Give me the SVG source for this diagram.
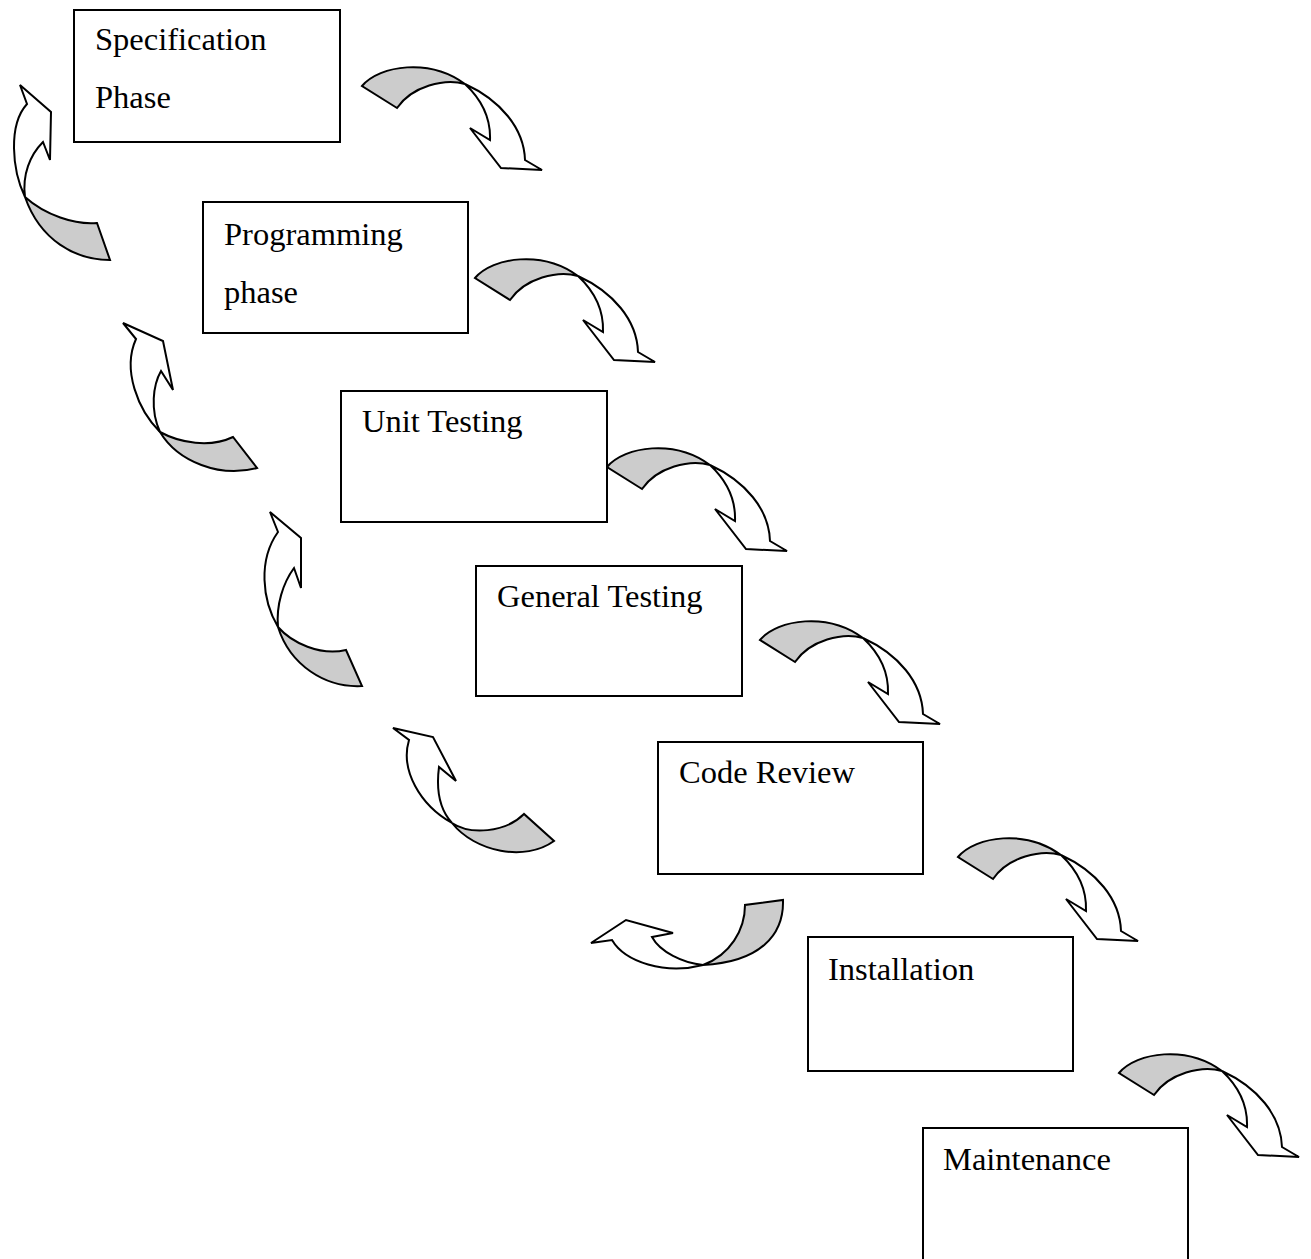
<svg xmlns="http://www.w3.org/2000/svg" width="1311" height="1259" viewBox="0 0 1311 1259">
  <style>
    .box { fill: #ffffff; stroke: #000000; stroke-width: 2; }
    .lbl { font-family: "Liberation Serif", "Times New Roman", serif; font-size: 32.5px; fill: #000000; }
    .back { fill: #cccccc; stroke: #000000; stroke-width: 2; stroke-linejoin: miter; }
    .front { fill: #ffffff; stroke: #000000; stroke-width: 2; stroke-linejoin: miter; }
  </style>
  <defs>
    <!-- twisted curved-down arrow, origin at the tail's left corner -->
    <g id="curvedDown">
      <path class="back" d="M0,0 C18,-21 68,-28 103,-2 C83,-8 50,0 35,22 Z"/>
      <path class="front" d="M103,-2 C118,12 129,29 128,54 L108,42 L139,82 L180,84 L163,74 C162,42 138,14 103,-2 Z"/>
    </g>
  </defs>
  <rect width="1311" height="1259" fill="#ffffff"/>

  <g id="connectors">
    <!-- forward arrows between phases -->
    <use href="#curvedDown" transform="translate(362,86)"/>
    <use href="#curvedDown" transform="translate(475,278)"/>
    <use href="#curvedDown" transform="translate(607,467)"/>
    <use href="#curvedDown" transform="translate(760,640)"/>
    <use href="#curvedDown" transform="translate(958,857)"/>
    <use href="#curvedDown" transform="translate(1119,1073)"/>

    <!-- return arrows -->
    <g id="back1">
      <path class="back" d="M25,197 C45,215 75,225 97,223 L110,260 C75,260 40,240 25,197 Z"/>
      <path class="front" d="M25,197 C12,170 8,125 27,104 L20,85 L51,112 L50,160 L43,142 C30,155 22,175 25,197 Z"/>
    </g>
    <g id="back2">
      <path class="back" d="M160,432 C180,443 210,448 233,437 L257,468 C220,478 178,462 160,432 Z"/>
      <path class="front" d="M160,432 C138,410 122,370 136,339 L123,323 L163,341 L173,390 L161,371 C153,385 150,410 160,432 Z"/>
    </g>
    <g id="back3">
      <path class="back" d="M278,627 C292,643 320,656 346,650 L362,686 C325,688 290,665 278,627 Z"/>
      <path class="front" d="M278,627 C262,600 258,560 278,532 L270,512 L301,538 L301,588 L294,568 C283,583 276,605 278,627 Z"/>
    </g>
    <g id="back4">
      <path class="back" d="M452,823 C470,835 505,833 524,814 L554,841 C525,862 475,852 452,823 Z"/>
      <path class="front" d="M452,823 C420,805 400,770 409,740 L393,728 L433,737 L456,781 L439,767 C436,790 440,810 452,823 Z"/>
    </g>
    <g id="back5">
      <path class="back" d="M703,965 C730,955 745,930 745,905 L783,900 C784,935 760,962 703,965 Z"/>
      <path class="front" d="M703,965 C683,963 660,952 652,937 L673,933 L626,920 L591,943 L612,940 C625,962 665,975 703,965 Z"/>
    </g>
  </g>

  <g id="spec">
    <rect class="box" x="74" y="10" width="266" height="132"/>
    <text class="lbl" x="95" y="50">Specification</text>
    <text class="lbl" x="95" y="108">Phase</text>
  </g>
  <g id="programming">
    <rect class="box" x="203" y="202" width="265" height="131"/>
    <text class="lbl" x="224" y="245">Programming</text>
    <text class="lbl" x="224" y="303">phase</text>
  </g>
  <g id="unit-testing">
    <rect class="box" x="341" y="391" width="266" height="131"/>
    <text class="lbl" x="362" y="432">Unit Testing</text>
  </g>
  <g id="general-testing">
    <rect class="box" x="476" y="566" width="266" height="130"/>
    <text class="lbl" x="497" y="607">General Testing</text>
  </g>
  <g id="code-review">
    <rect class="box" x="658" y="742" width="265" height="132"/>
    <text class="lbl" x="679" y="783">Code Review</text>
  </g>
  <g id="installation">
    <rect class="box" x="808" y="937" width="265" height="134"/>
    <text class="lbl" x="828" y="980">Installation</text>
  </g>
  <g id="maintenance">
    <rect class="box" x="923" y="1128" width="265" height="140"/>
    <text class="lbl" x="943" y="1170">Maintenance</text>
  </g>
</svg>
